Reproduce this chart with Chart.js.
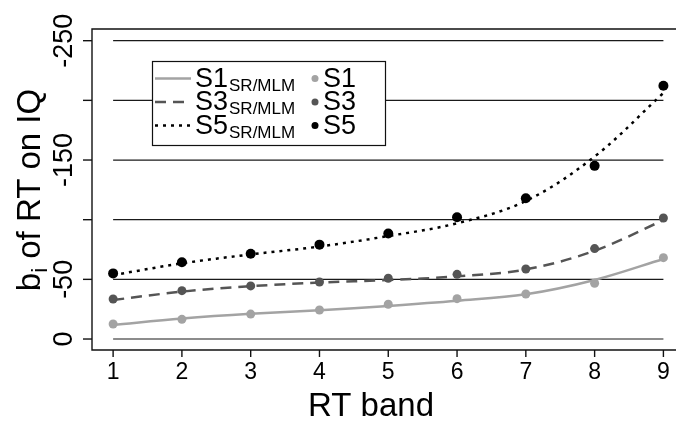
<!DOCTYPE html>
<html>
<head>
<meta charset="utf-8">
<script src="https://cdn.jsdelivr.net/npm/chart.js@4.4.1/dist/chart.umd.min.js"></script>
<style>
  html, body { margin: 0; padding: 0; background: #fff; overflow: hidden; }
  canvas { display: block; }
</style>
</head>
<body>
<canvas id="c" width="679" height="421"></canvas>
<script>
// ---- data ----
const bands = [1, 2, 3, 4, 5, 6, 7, 8, 9];
const s1Obs = [-12.6, -16.5, -20.9, -24.3, -29.1, -33.8, -37.7, -46.7, -68.2];
const s3Obs = [-33.5, -40.5, -44.5, -47.8, -50.9, -54.2, -58.7, -75.8, -101.4];
const s5Obs = [-55.0, -64.3, -71.5, -79.1, -88.5, -102.0, -117.9, -145.1, -212.3];
const s1Fit = [-11.8, -17.1, -21.1, -24.1, -27.7, -32.0, -37.5, -49.5, -67.1];
const s3Fit = [-32.7, -39.7, -44.3, -47.3, -49.5, -52.5, -58.3, -74.0, -99.6];
const s5Fit = [-53.6, -63.4, -70.9, -77.5, -86.3, -97.0, -115.7, -152.9, -206.2];
const yTicks = [-250, -200, -150, -100, -50, 0];
const yTickLabels = ['-250', '', '-150', '', '-50', '0'];
const xTicks = [1, 2, 3, 4, 5, 6, 7, 8, 9];
const xTickLabels = ['1', '2', '3', '4', '5', '6', '7', '8', '9'];
const seriesNames = ['S1', 'S3', 'S5'];
const fitSuffix = 'SR/MLM';
const xTitle = 'RT band';
const yTitleMain = 'b';
const yTitleSub = 'i';
const yTitleRest = ' of RT on IQ';

const FONT = '"Liberation Sans", Arial, Helvetica, sans-serif';
const C1 = '#a3a3a3', C3 = '#555555', C5 = '#000000';
const dashes = [[], [11, 7], [3, 5]];
const colors = [C1, C3, C5];

function pts(ys) { return bands.map((x, i) => ({ x: x, y: ys[i] })); }

const axisPlugin = {
  id: 'rAxes',
  beforeDatasetsDraw(chart) {
    const ctx = chart.ctx, xs = chart.scales.x, ys = chart.scales.y, ca = chart.chartArea;
    ctx.save();
    const gx0 = xs.getPixelForValue(1), gx1 = xs.getPixelForValue(9);
    ctx.strokeStyle = '#1a1a1a'; ctx.lineWidth = 1.2;
    yTicks.forEach(v => {
      const y = ys.getPixelForValue(v);
      ctx.beginPath(); ctx.moveTo(gx0, y); ctx.lineTo(gx1, y); ctx.stroke();
    });
    ctx.strokeStyle = '#111'; ctx.lineWidth = 1.4;
    ctx.beginPath();
    ctx.moveTo(ca.right + 2, ca.top); ctx.lineTo(ca.left, ca.top);
    ctx.lineTo(ca.left, ca.bottom); ctx.lineTo(ca.right + 2, ca.bottom);
    ctx.stroke();
    ctx.fillStyle = '#000';
    yTicks.forEach((v, i) => {
      const y = ys.getPixelForValue(v);
      ctx.beginPath(); ctx.moveTo(ca.left, y); ctx.lineTo(ca.left - 9, y); ctx.stroke();
      if (yTickLabels[i]) {
        ctx.save();
        ctx.translate(72, y); ctx.rotate(-Math.PI / 2);
        ctx.font = '27px ' + FONT; ctx.textAlign = 'center'; ctx.textBaseline = 'alphabetic';
        ctx.fillText(yTickLabels[i], 0, 0);
        ctx.restore();
      }
    });
    ctx.font = '23px ' + FONT; ctx.textAlign = 'center'; ctx.textBaseline = 'alphabetic';
    xTicks.forEach((v, i) => {
      const x = xs.getPixelForValue(v);
      ctx.beginPath(); ctx.moveTo(x, ca.bottom); ctx.lineTo(x, ca.bottom + 7); ctx.stroke();
      ctx.fillText(xTickLabels[i], x, 378.5);
    });
    ctx.font = '33px ' + FONT;
    ctx.fillText(xTitle, 371, 416);
    ctx.save();
    ctx.translate(40, 190); ctx.rotate(-Math.PI / 2);
    ctx.textAlign = 'left';
    const fMain = '33px ' + FONT, fSub = '22px ' + FONT;
    ctx.font = fMain; const wb = ctx.measureText(yTitleMain).width;
    const wr = ctx.measureText(yTitleRest).width;
    ctx.font = fSub; const wi = ctx.measureText(yTitleSub).width;
    let x0 = -(wb + wi + wr) / 2;
    ctx.font = fMain; ctx.fillText(yTitleMain, x0, 0);
    ctx.font = fSub; ctx.fillText(yTitleSub, x0 + wb, 7);
    ctx.font = fMain; ctx.fillText(yTitleRest, x0 + wb + wi, 0);
    ctx.restore();
    ctx.restore();
  },
  afterDraw(chart) {
    const ctx = chart.ctx;
    ctx.save();
    const bx = 152, by = 61, bw = 233, bh = 84;
    ctx.fillStyle = '#fff'; ctx.fillRect(bx, by, bw, bh);
    ctx.strokeStyle = '#111'; ctx.lineWidth = 1.2;
    ctx.strokeRect(bx + 0.5, by + 0.5, bw, bh);
    const rowY = [78.5, 102, 125.5];
    const baseY = [86.5, 110, 133.5];
    seriesNames.forEach((n, i) => {
      ctx.strokeStyle = colors[i]; ctx.lineWidth = 2.5; ctx.setLineDash(dashes[i]);
      ctx.beginPath(); ctx.moveTo(155, rowY[i]); ctx.lineTo(191, rowY[i]); ctx.stroke();
      ctx.setLineDash([]);
      ctx.fillStyle = '#000'; ctx.textAlign = 'left'; ctx.textBaseline = 'alphabetic';
      ctx.font = '27px ' + FONT;
      ctx.fillText(n, 195, baseY[i]);
      const w = ctx.measureText(n).width;
      ctx.font = '17px ' + FONT;
      ctx.fillText(fitSuffix, 196 + w, baseY[i] + 4);
      ctx.fillStyle = colors[i];
      ctx.beginPath(); ctx.arc(315, rowY[i], 3.5, 0, Math.PI * 2); ctx.fill();
      ctx.fillStyle = '#000'; ctx.font = '27px ' + FONT;
      ctx.fillText(n, 323, baseY[i]);
    });
    ctx.restore();
  }
};

const lineDs = (data, color, dash) => ({
  type: 'line', data: pts(data), borderColor: color, borderWidth: 2.5, borderDash: dash,
  pointRadius: 0, fill: false, tension: 0.35, order: 2
});
const ptDs = (data, color, r) => ({
  type: 'line', data: pts(data), showLine: false, pointRadius: r, pointBackgroundColor: color,
  pointBorderColor: color, pointBorderWidth: 0, order: 1
});

new Chart(document.getElementById('c'), {
  type: 'line',
  data: {
    datasets: [
      lineDs(s1Fit, C1, dashes[0]),
      lineDs(s3Fit, C3, dashes[1]),
      lineDs(s5Fit, C5, dashes[2]),
      ptDs(s1Obs, C1, 4.5),
      ptDs(s3Obs, C3, 4.5),
      ptDs(s5Obs, C5, 5)
    ]
  },
  options: {
    responsive: false, animation: false, devicePixelRatio: 1,
    layout: { padding: { left: 92, top: 29, right: 0, bottom: 71 } },
    plugins: { legend: { display: false }, tooltip: { enabled: false } },
    scales: {
      x: { type: 'linear', min: 0.693, max: 9.154, display: false },
      y: { type: 'linear', min: -259.8, max: 9.2, reverse: true, display: false }
    }
  },
  plugins: [axisPlugin]
});
</script>
</body>
</html>
